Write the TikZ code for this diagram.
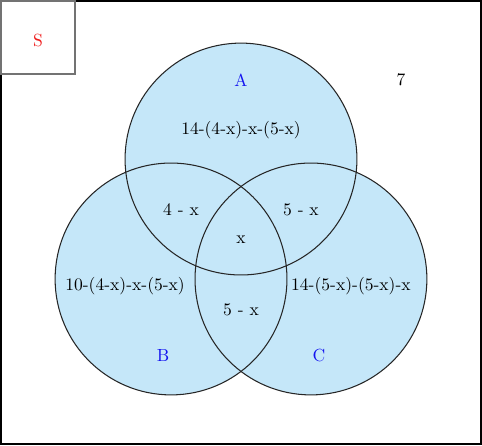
\documentclass[tikz,border=0pt]{standalone}
\usepackage{amsmath}
\definecolor{vennfill}{RGB}{197, 231, 249}
\definecolor{setblue}{RGB}{20, 20, 240}
\definecolor{setred}{RGB}{240, 30, 30}
\tikzset{
  % Region counts inside the circles.
  count/.style={font=\normalsize, text=black, inner sep=1pt},
  % Set names.
  set-name/.style={font=\normalsize, text=setblue, inner sep=1pt},
  % Circle outline and fill.
  set-fill/.style={fill=vennfill, draw=none},
  set-line/.style={draw=black!85, line width=0.6pt},
}

\begin{document}
\begin{tikzpicture}[x=0.02cm, y=-0.02cm]

  % Universe frame and label box.
  \draw[line width=1.3pt, fill=white] (1, 1) rectangle (481, 444);
  \useasboundingbox (0, 0) rectangle (482, 445);
  \draw[draw=black!55, line width=0.8pt] (1, 1) rectangle (75, 74);
  \node[font=\normalsize, text=setred] (s) at (38, 40) {S};

  % Three sets: fill first, then outlines.
  \coordinate (ca) at (241, 159);
  \coordinate (cb) at (171, 279);
  \coordinate (cc) at (311, 279);
  \foreach \c in {ca, cb, cc}
    \fill[set-fill] (\c) circle (116);
  \foreach \c in {ca, cb, cc}
    \draw[set-line] (\c) circle (116);

  % Set names.
  \node[set-name] (a) at (241, 80)  {A};
  \node[set-name] (b) at (163, 356) {B};
  \node[set-name] (c) at (319, 356) {C};

  % Counts.
  \node[count] (outside) at (401, 80)  {7};
  \node[count] (onlya)   at (241, 130) {14-(4-x)-x-(5-x)};
  \node[count] (ab)      at (181, 210) {4 - x};
  \node[count] (ac)      at (301, 210) {5 - x};
  \node[count] (abc)     at (241, 240) {x};
  \node[count] (onlyb)   at (125, 286) {10-(4-x)-x-(5-x)};
  \node[count] (onlyc)   at (351, 286) {14-(5-x)-(5-x)-x};
  \node[count] (bc)      at (241, 310) {5 - x};

\end{tikzpicture}
\end{document}
